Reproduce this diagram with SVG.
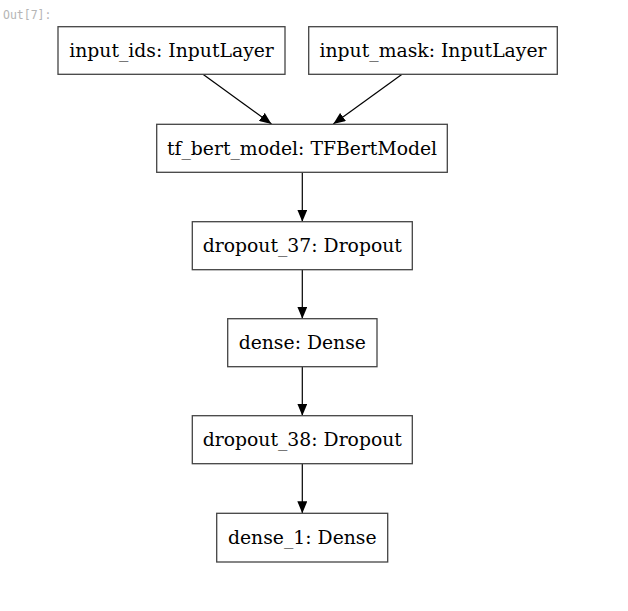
<svg xmlns="http://www.w3.org/2000/svg" width="628" height="611" viewBox="0 0 628 611">
<style>
.box{fill:#fff;stroke:#444;stroke-width:1.3}
.lbl{font-family:"DejaVu Serif",serif;font-size:18.8px;fill:#000;text-anchor:middle}
.edge{stroke:#000;stroke-width:1.2;fill:none}
.prompt{font-family:"DejaVu Sans Mono",monospace;font-size:11.5px;fill:#b5b5b5}
</style>
<defs>
<marker id="arr" viewBox="0 0 12 10" refX="12" refY="5" markerWidth="12" markerHeight="10" markerUnits="userSpaceOnUse" orient="auto">
<path d="M0,0 L12,5 L0,10 Z" fill="#000"/>
</marker>
</defs>
<rect width="628" height="611" fill="#fff"/>
<text class="prompt" x="3" y="19">Out[7]:</text>
<g id="connectors">
<line class="edge" x1="203.3" y1="74.5" x2="271.5" y2="124" marker-end="url(#arr)"/>
<line class="edge" x1="401.7" y1="74.5" x2="333.3" y2="124" marker-end="url(#arr)"/>
<line class="edge" x1="302.3" y1="172.3" x2="302.3" y2="221.7" marker-end="url(#arr)"/>
<line class="edge" x1="302.3" y1="269.7" x2="302.3" y2="318.7" marker-end="url(#arr)"/>
<line class="edge" x1="302.3" y1="366.7" x2="302.3" y2="415.7" marker-end="url(#arr)"/>
<line class="edge" x1="302.3" y1="463.7" x2="302.3" y2="513.3" marker-end="url(#arr)"/>
</g>
<g id="input_ids"><rect class="box" x="58" y="26.7" width="227" height="47.6"/><text class="lbl" x="171.5" y="57">input_ids: InputLayer</text></g>
<g id="input_mask"><rect class="box" x="308.7" y="26.7" width="248.6" height="47.6"/><text class="lbl" x="433" y="57">input_mask: InputLayer</text></g>
<g id="tf_bert_model"><rect class="box" x="156.7" y="124.3" width="290.6" height="48"/><text class="lbl" x="302" y="155">tf_bert_model: TFBertModel</text></g>
<g id="dropout_37"><rect class="box" x="192.3" y="221.7" width="220" height="48"/><text class="lbl" x="302.3" y="252.3">dropout_37: Dropout</text></g>
<g id="dense"><rect class="box" x="227.7" y="318.7" width="149.3" height="48"/><text class="lbl" x="302.3" y="349.3">dense: Dense</text></g>
<g id="dropout_38"><rect class="box" x="192.3" y="415.7" width="220" height="48"/><text class="lbl" x="302.3" y="446.3">dropout_38: Dropout</text></g>
<g id="dense_1"><rect class="box" x="216.7" y="513.3" width="171" height="48.7"/><text class="lbl" x="302.3" y="544">dense_1: Dense</text></g>
</svg>
